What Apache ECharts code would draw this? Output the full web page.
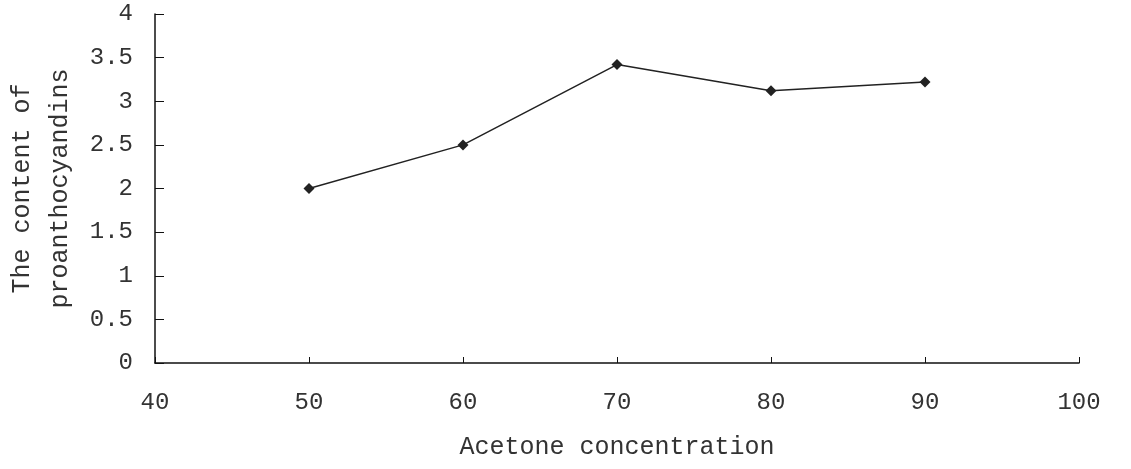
<!DOCTYPE html>
<html>
<head>
<meta charset="utf-8">
<script src="https://cdn.jsdelivr.net/npm/echarts@6/dist/echarts.min.js"></script>
<style>html,body{margin:0;padding:0;background:#fff;}#c{width:1131px;height:469px;}</style>
</head>
<body>
<div id="c"></div>
<script>
const xValues = [50, 60, 70, 80, 90];
const yValues = [2.0, 2.5, 3.42, 3.12, 3.22];
const xName = 'Acetone concentration';
const yName = 'The content of\nproanthocyandins';

const font = 'Liberation Mono';
const chart = echarts.init(document.getElementById('c'));
chart.setOption({
  animation: false,
  backgroundColor: '#fff',
  grid: {left: 155, right: 52, top: 14, bottom: 106, containLabel: false, outerBoundsMode: 'none'},
  xAxis: {
    type: 'value', min: 40, max: 100, interval: 10,
    name: xName, nameLocation: 'middle', nameGap: 72,
    nameTextStyle: {fontFamily: font, fontSize: 25, color: '#333'},
    axisLine: {lineStyle: {color: '#111', width: 1.5}},
    axisTick: {inside: true, length: 6, lineStyle: {color: '#111'}},
    axisLabel: {fontFamily: font, fontSize: 24, color: '#333', margin: 28},
    splitLine: {show: false}
  },
  yAxis: {
    type: 'value', min: 0, max: 4, interval: 0.5,
    name: yName, nameLocation: 'middle', nameGap: 75, nameRotate: 90,
    nameTextStyle: {fontFamily: font, fontSize: 25, color: '#333', lineHeight: 38},
    axisLine: {show: true, lineStyle: {color: '#111', width: 1.5}},
    axisTick: {show: true, inside: true, length: 9, lineStyle: {color: '#111'}},
    axisLabel: {fontFamily: font, fontSize: 24, color: '#333', margin: 22},
    splitLine: {show: false}
  },
  series: [{
    type: 'line',
    data: xValues.map((x, i) => [x, yValues[i]]),
    symbol: 'diamond', symbolSize: 11,
    lineStyle: {color: '#222', width: 1.5},
    itemStyle: {color: '#222'}
  }]
});
</script>
</body>
</html>
